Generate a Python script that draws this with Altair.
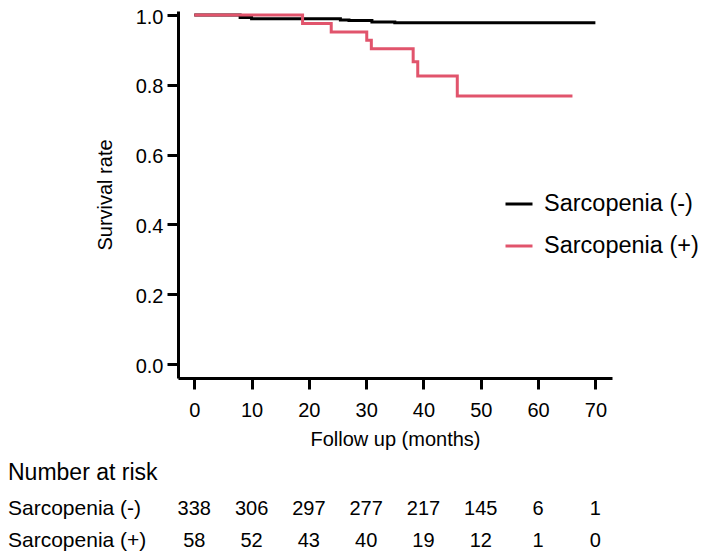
import altair as alt
import pandas as pd

FONT = "Liberation Sans"

groups = ["Sarcopenia (-)", "Sarcopenia (+)"]
colors = ["#000000", "#E1546C"]

# Kaplan-Meier step points (months, survival)
neg_time = [0, 8, 10, 25.5, 27, 31, 35, 70]
neg_surv = [1.0, 0.993, 0.989, 0.986, 0.984, 0.980, 0.978, 0.978]
pos_time = [0, 18.9, 23.9, 30.1, 30.9, 38.2, 39.0, 45.9, 66.0]
pos_surv = [1.0, 0.976, 0.951, 0.928, 0.903, 0.866, 0.825, 0.768, 0.768]

# number at risk
risk_times = [0, 10, 20, 30, 40, 50, 60, 70]
risk_neg = [338, 306, 297, 277, 217, 145, 6, 1]
risk_pos = [58, 52, 43, 40, 19, 12, 1, 0]

x_ticks = [0, 10, 20, 30, 40, 50, 60, 70]
y_ticks = [0.0, 0.2, 0.4, 0.6, 0.8, 1.0]

curve = pd.DataFrame(
    {"time": neg_time + pos_time,
     "surv": neg_surv + pos_surv,
     "group": [groups[0]] * len(neg_time) + [groups[1]] * len(pos_time)}
)
risk1 = pd.DataFrame({"time": risk_times, "n": [str(v) for v in risk_neg]})
risk2 = pd.DataFrame({"time": risk_times, "n": [str(v) for v in risk_pos]})

TOP = 3
W, H = 434, 367
xs = alt.Scale(domain=[-2.84, 72.9], nice=False, zero=False)
ys = alt.Scale(domain=[-0.04, 1.0115], nice=False, zero=False)

lines = alt.Chart(curve).mark_line(interpolate="step-after", strokeWidth=3).encode(
    x=alt.X("time:Q", scale=xs, title="Follow up (months)",
            axis=alt.Axis(values=x_ticks, format="d")),
    y=alt.Y("surv:Q", scale=ys, title="Survival rate",
            axis=alt.Axis(values=y_ticks, format=".1f", labelOffset=2)),
    color=alt.Color("group:N", scale=alt.Scale(domain=groups, range=colors),
                    legend=alt.Legend(orient="none", legendX=326, legendY=178, title=None,
                                      symbolType="stroke", symbolSize=729,
                                      symbolStrokeWidth=3, labelFontSize=23.5,
                                      labelFont=FONT, labelColor="black",
                                      rowPadding=15, labelOffset=10, padding=0)),
    order=alt.Order("time:Q"),
)


def text_layer(df, field, y_px, size, align, x_enc):
    return alt.Chart(df).mark_text(
        align=align, baseline="alphabetic", fontSize=size, font=FONT, color="black"
    ).encode(x=x_enc, y=alt.value(y_px - 8 - TOP), text=f"{field}:N")


title_txt = text_layer(pd.DataFrame({"t": ["Number at risk"]}), "t", 480, 23, "left",
                       alt.value(-170))
lab1 = text_layer(pd.DataFrame({"g": [groups[0]]}), "g", 515, 21, "left", alt.value(-170))
lab2 = text_layer(pd.DataFrame({"g": [groups[1]]}), "g", 547, 21, "left", alt.value(-170))
nums1 = text_layer(risk1, "n", 515, 20, "center", alt.X("time:Q", scale=xs))
nums2 = text_layer(risk2, "n", 547, 20, "center", alt.X("time:Q", scale=xs))

chart = alt.layer(lines, title_txt, lab1, lab2, nums1, nums2).properties(
    width=W, height=H,
    autosize=alt.AutoSizeParams(type="none"),
    padding={"left": 170, "top": TOP, "right": 88, "bottom": 544 - H - TOP},
).configure_view(stroke=None).configure_axis(
    grid=False, domainColor="black", domainWidth=3, tickColor="black", tickWidth=3,
    tickSize=11, labelFont=FONT, labelFontSize=20, labelColor="black", labelPadding=4,
    titleFont=FONT, titleFontSize=20, titleFontWeight="normal", titleColor="black",
).configure_axisX(labelPadding=11, titlePadding=9).configure_axisY(titlePadding=20)

chart.save("out.html", embed_options={"renderer": "svg", "actions": False})
